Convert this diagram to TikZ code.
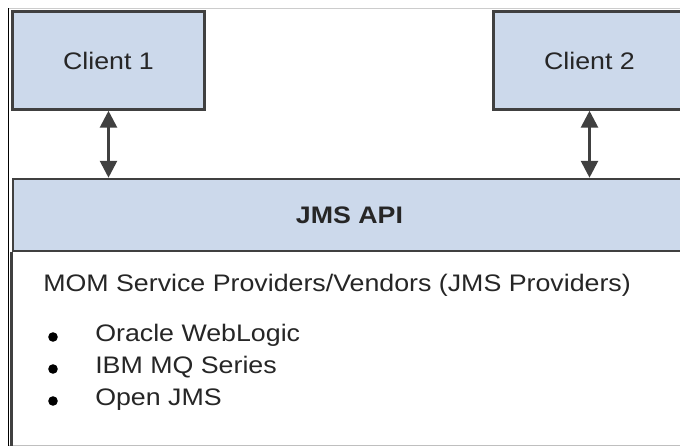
\documentclass[tikz,border=0pt]{standalone}
\usepackage{fontspec}
\setmainfont{Liberation Sans}[FakeStretch=1.12]
\usetikzlibrary{shapes,backgrounds}
\usetikzlibrary{arrows.meta}

\definecolor{boxblue}{RGB}{204,217,235}
\definecolor{boxline}{RGB}{64,64,64}

\tikzset{
	layer/.style={draw=boxline, line width=1.8pt, fill=boxblue, inner sep=0pt},
	client/.style={layer, minimum width=4.8cm, minimum height=2.45cm},
	link/.style={<->, >={Triangle[width=0.42cm,length=0.42cm]}, draw=boxline, line width=2pt},
	item/.style={anchor=base west, inner sep=0pt}
}

\begin{document}
\begin{tikzpicture}[font=\fontsize{17}{22}\selectfont, text=black!85]
	\useasboundingbox (0,0) rectangle (17,11.15);
	\clip (0,0) rectangle (17,11.15);
	\fill[white] (0,0) rectangle (17,11.15);
	\draw[black!20] (0.21,10.94) -- (17,10.94);
	\draw[black!25] (0.21,0.025) -- (17,0.025);
	\draw[black, line width=1pt] (0.21,10.94) -- (0.21,0);

	\node[client] (client1) at (2.7125,9.6375) {Client 1};
	\node[client] (client2) at (14.7375,9.6375) {Client 2};
	\node[layer, minimum width=16.825cm, minimum height=1.8cm] (api) at (8.7375,5.775) {\bfseries JMS API};
	\draw[draw=boxline, line width=1.8pt] (api.south west) -- ++(0,-6) (api.south east) -- ++(0,-6);

	\draw[link] (client1.south) -- (client1.south |- api.north);
	\draw[link] (client2.south) -- (client2.south |- api.north);

	\node[item] (mom) at (1.075,3.85) {MOM Service Providers/Vendors (JMS Providers)};
	\fill (1.325,2.725) circle (0.12) node[item] (weblogic) at (2.375,2.6) {Oracle WebLogic};
	\fill (1.325,1.925) circle (0.12) node[item] (mqseries) at (2.375,1.8) {IBM MQ Series};
	\fill (1.325,1.125) circle (0.12) node[item] (openjms) at (2.375,1.0) {Open JMS};
\end{tikzpicture}
\end{document}
